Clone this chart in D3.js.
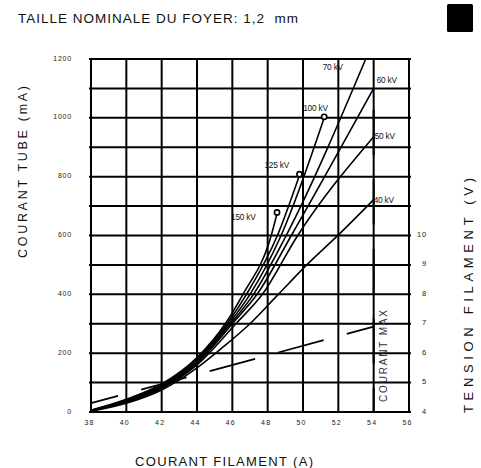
<!DOCTYPE html>
<html>
<head>
<meta charset="utf-8">
<script src="https://cdn.jsdelivr.net/npm/d3@7"></script>
<style>
  html, body { margin: 0; padding: 0; background: #fff; }
  svg { display: block; font-family: "Liberation Sans", Arial, sans-serif; }
</style>
</head>
<body>
<svg id="chart" width="481" height="468"></svg>
<script>
// ---------- data ----------
const title = "TAILLE NOMINALE DU FOYER: 1,2  mm";
const xTitle = "COURANT FILAMENT (A)";
const yTitle = "COURANT TUBE (mA)";
const y2Title = "TENSION FILAMENT (V)";
const maxLabel = "COURANT MAX";

const xTicks = [3.8, 4.0, 4.2, 4.4, 4.6, 4.8, 5.0, 5.2, 5.4, 5.6];
const xTickLabels = ["38", "40", "42", "44", "46", "48", "50", "52", "54", "56"];
const yTicks = [0, 100, 200, 300, 400, 500, 600, 700, 800, 900, 1000, 1100, 1200];
const yTickLabels = ["0", "200", "400", "600", "800", "1000", "1200"];
const yLabelValues = [0, 200, 400, 600, 800, 1000, 1200];
const y2Ticks = [4, 5, 6, 7, 8, 9, 10];

const seriesNames = ["40 kV", "50 kV", "60 kV", "70 kV", "100 kV", "125 kV", "150 kV"];
// [filament current (A), tube current (mA)]
const kv40  = [[3.8,3],[4.0,30],[4.2,75],[4.4,150],[4.55,222],[4.70,300],[4.86,400],[5.04,511],[5.19,596],[5.4,722]];
const kv50  = [[3.8,4],[4.0,33],[4.2,80],[4.4,160],[4.62,300],[4.77,400],[4.97,600],[5.4,936]];
const kv60  = [[3.8,4],[4.0,35],[4.2,83],[4.4,165],[4.60,300],[4.74,400],[4.934,600],[5.4,1100]];
const kv70  = [[3.8,5],[4.0,37],[4.2,86],[4.4,170],[4.59,300],[4.72,400],[4.905,600],[5.355,1200]];
const kv100 = [[3.8,5],[4.0,39],[4.2,89],[4.4,175],[4.58,300],[4.70,400],[4.876,600],[5.12,1000]];
const kv125 = [[3.8,6],[4.0,41],[4.2,92],[4.4,180],[4.57,300],[4.68,400],[4.855,600],[4.98,805]];
const kv150 = [[3.8,6],[4.0,43],[4.2,95],[4.4,185],[4.56,300],[4.66,400],[4.82,600],[4.853,675]];
const seriesValues = [kv40, kv50, kv60, kv70, kv100, kv125, kv150];
const endMarkers = [false, false, false, false, true, true, true];

// filament voltage (right axis, V) vs filament current (A)
const filamentVoltage = [[3.8, 4.3], [5.4, 6.9]];
// max current limit: filament current (A) and tube current extent (mA)
const maxCurrentX = 5.4;
const maxCurrentRange = [1027, 0];

// ---------- layout ----------
const svg = d3.select("#chart");
const x = d3.scaleLinear().domain([3.8, 5.6]).range([91, 409]);
const y = d3.scaleLinear().domain([0, 1200]).range([412, 59]);
const y2 = d3.scaleLinear().domain([4, 16]).range([412, 59]);

// label offsets relative to each curve's end point (px)
const labelOffset = {
  "40 kV":  [0, 3],
  "50 kV":  [1, 2],
  "60 kV":  [3, -5],
  "70 kV":  [-43, 11],
  "100 kV": [-21, -7],
  "125 kV": [-35, -7],
  "150 kV": [-46, 7]
};

// title
svg.append("text").attr("x", 18).attr("y", 23)
  .attr("font-size", 13.5).attr("textLength", 280).attr("lengthAdjust", "spacing")
  .style("white-space", "pre")
  .attr("fill", "#111").text(title);

// black square
svg.append("rect").attr("x", 447).attr("y", 4).attr("width", 26).attr("height", 28)
  .attr("rx", 1.5).attr("fill", "#000");

// grid
const grid = svg.append("g").attr("stroke", "#000").attr("stroke-width", 2);
grid.selectAll("line.v").data(xTicks).join("line").attr("class", "v")
  .attr("x1", d => x(d)).attr("x2", d => x(d)).attr("y1", y(1200) - 1).attr("y2", y(0) + 1);
grid.selectAll("line.h").data(yTicks).join("line").attr("class", "h")
  .attr("x1", x(3.8) - 2).attr("x2", x(5.6) + 2).attr("y1", d => y(d)).attr("y2", d => y(d));

// left tick labels
svg.append("g").selectAll("text").data(yLabelValues).join("text")
  .attr("x", 72).attr("y", d => y(d) + 1.5)
  .attr("text-anchor", "end").attr("font-size", 7).attr("letter-spacing", 0.8)
  .attr("fill", "#222").text((d, i) => yTickLabels[i]);

// bottom tick labels
svg.append("g").selectAll("text").data(xTicks).join("text")
  .attr("x", d => x(d) - 1.5).attr("y", 425)
  .attr("text-anchor", "middle").attr("font-size", 7).attr("letter-spacing", 1.2)
  .attr("fill", "#222").text((d, i) => xTickLabels[i]);

// right tick labels
svg.append("g").selectAll("text").data(y2Ticks).join("text")
  .attr("x", 427).attr("y", d => y2(d) + 1.5)
  .attr("text-anchor", "end").attr("font-size", 7.5).attr("letter-spacing", 0.8)
  .attr("fill", "#222").text(d => d);

// axis titles
svg.append("text").attr("x", 135).attr("y", 466)
  .attr("font-size", 13).attr("textLength", 178).attr("lengthAdjust", "spacing")
  .attr("fill", "#111").text(xTitle);
svg.append("text").attr("transform", "translate(27,258) rotate(-90)")
  .attr("font-size", 12.5).attr("textLength", 172).attr("lengthAdjust", "spacing")
  .attr("fill", "#111").text(yTitle);
svg.append("text").attr("transform", "translate(472.5,413) rotate(-90)")
  .attr("font-size", 13).attr("textLength", 235).attr("lengthAdjust", "spacing")
  .attr("fill", "#111").text(y2Title);

// curves
const line = d3.line().x(d => x(d[0])).y(d => y(d[1])).curve(d3.curveMonotoneX);
const curves = svg.append("g");
seriesValues.forEach((s, i) => {
  curves.append("path").attr("d", line(s)).attr("fill", "none")
    .attr("stroke", "#000").attr("stroke-width", 1.6);
  const end = s[s.length - 1];
  if (endMarkers[i]) {
    curves.append("circle").attr("cx", x(end[0])).attr("cy", y(end[1]) - 1).attr("r", 2.6)
      .attr("fill", "#fff").attr("stroke", "#000").attr("stroke-width", 1.6);
  }
  const off = labelOffset[seriesNames[i]];
  curves.append("text").attr("x", x(end[0]) + off[0]).attr("y", y(end[1]) + off[1])
    .attr("font-size", 8.3).attr("letter-spacing", -0.2).attr("fill", "#111")
    .text(seriesNames[i]);
});

// filament voltage dashed line
const vline = d3.line().x(d => x(d[0])).y(d => y2(d[1]));
svg.append("path").attr("d", vline(filamentVoltage)).attr("fill", "none")
  .attr("stroke", "#000").attr("stroke-width", 1.8)
  .attr("stroke-dasharray", "47,24").attr("stroke-dashoffset", 19);

// max current dashed vertical line
svg.append("line").attr("x1", x(maxCurrentX)).attr("x2", x(maxCurrentX))
  .attr("y1", y(maxCurrentRange[0])).attr("y2", y(maxCurrentRange[1]))
  .attr("stroke", "#000").attr("stroke-width", 2).attr("stroke-dasharray", "45,24.5");

// COURANT MAX label
svg.append("text").attr("transform", "translate(387,402) rotate(-90)")
  .attr("font-size", 10).attr("textLength", 92).attr("lengthAdjust", "spacing")
  .attr("fill", "#333").text(maxLabel);
</script>
</body>
</html>
